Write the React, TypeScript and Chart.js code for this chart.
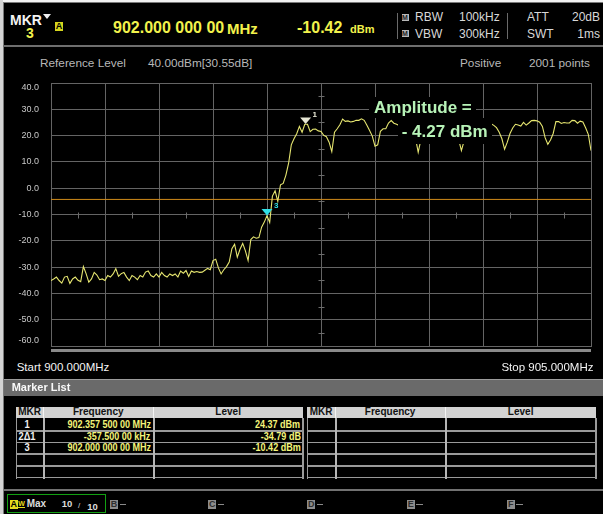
import React, { useEffect, useRef } from 'react';
import { Chart, registerables } from 'chart.js';

Chart.register(...registerables);

// ---- sweep settings ----
const START_MHZ = 900;
const STOP_MHZ = 905;
const SWEEP_STEP_MHZ = 0.025;
const Y_MIN = -60;
const Y_MAX = 40;
const Y_STEP = 10;
const DISPLAY_LINE_DBM = -4.27;

// ---- trace levels (dBm), one value per 25 kHz ----
const TRACE_900_901 = [
  -35.1, -34.5, -33.8, -35.1, -36.1, -33.8, -33.5, -36.2, -34.5, -33.8,
  -35.0, -35.5, -29.8, -32.5, -35.7, -34.5, -32.0, -33.0, -34.8, -34.5,
  -35.1, -33.2, -33.8, -32.6, -30.6, -33.5, -32.5, -32.0, -33.8, -35.1,
  -33.2, -33.8, -34.8, -33.2, -33.8, -31.9, -31.5, -33.2, -33.8, -32.6,
  -33.8,
];
const TRACE_901_902 = [
  -32.0, -33.2, -33.8, -32.6, -33.2, -32.6, -33.8, -31.5, -32.3, -31.3,
  -33.6, -31.5, -32.0, -31.7, -32.0, -31.9, -31.2, -30.5, -31.0, -27.5,
  -27.0, -30.3, -32.6, -31.0, -29.8, -28.1, -23.0, -21.3, -26.2, -23.2,
  -21.0, -23.8, -27.5, -19.5, -18.5, -19.0, -18.8, -14.8, -12.9, -10.42,
];
const TRACE_902_903 = [
  -13.0, -3.0, -1.0, -5.0, 1.3, 1.8, 5.0, 9.5, 16.5, 18.8,
  20.7, 23.5, 21.3, 24.3, 24.3, 21.5, 22.4, 22.5, 21.8, 21.6,
  20.1, 19.6, 17.5, 13.9, 21.3, 22.6, 24.1, 26.3, 25.4, 25.6,
  25.2, 25.4, 25.8, 25.8, 26.4, 25.8, 23.9, 21.9, 19.8, 16.0,
];
const TRACE_903_904 = [
  16.5, 21.6, 22.6, 22.6, 24.8, 25.7, 24.7, 24.3, 23.8, 24.0,
  24.5, 25.0, 24.2, 22.5, 19.0, 13.7, 18.5, 22.0, 24.5, 25.3,
  24.8, 25.5, 24.6, 25.3, 25.0, 24.5, 25.2, 24.4, 23.5, 21.5,
  18.5, 14.3, 18.0, 22.0, 24.0, 25.0, 24.3, 25.2, 24.6, 25.0,
];
const TRACE_904_905 = [
  24.2, 24.8, 24.5, 23.9, 23.0, 21.3, 18.8, 14.8, 17.5, 20.8,
  22.9, 24.3, 24.0, 23.6, 25.0, 24.0, 24.8, 25.7, 25.8, 25.6,
  25.1, 23.5, 19.2, 16.7, 18.3, 20.8, 25.3, 25.3, 24.6, 25.0,
  24.8, 24.8, 25.8, 25.7, 24.7, 25.5, 25.2, 23.0, 20.5, 14.3,
];
const LEVELS = [...TRACE_900_901, ...TRACE_901_902, ...TRACE_902_903, ...TRACE_903_904, ...TRACE_904_905];
const FREQS = LEVELS.map((_, i) => START_MHZ + i * SWEEP_STEP_MHZ);

// ---- markers drawn on trace ----
const MARKER_IDS = ['1', '3'];
const MARKER_FREQS = [902.3575, 902.0];
const MARKER_LEVELS = [24.37, -10.42];
const MARKER_COLORS = ['#e6e6d4', '#2fe0e6'];

// ---- marker table ----
const TABLE_MKR = ['1', '2\u03941', '3', '', ''];
const TABLE_FREQ = ['902.357 500 00 MHz', '-357.500 00 kHz', '902.000 000 00 MHz', '', ''];
const TABLE_LEVEL = ['24.37 dBm', '-34.79 dB', '-10.42 dBm', '', ''];

const GRID = '#646464';
const TRACE_COLOR = '#e6e670';
const FONT = '"Liberation Sans", Arial, sans-serif';
const W = 603;

const specPlugin = {
  id: 'specDecor',
  afterDraw(chart: any) {
    const { ctx, chartArea: a, scales } = chart;
    const x = scales.x;
    const y = scales.y;
    ctx.save();
    // crosshair minor ticks
    ctx.strokeStyle = '#6c6c6c';
    ctx.lineWidth = 1;
    ctx.beginPath();
    const cy = Math.round(y.getPixelForValue((Y_MIN + Y_MAX) / 2)) + 0.5;
    for (let f = START_MHZ + 0.25; f < STOP_MHZ; f += 0.5) {
      const px = Math.round(x.getPixelForValue(f)) + 0.5;
      ctx.moveTo(px, cy - 3);
      ctx.lineTo(px, cy + 3);
    }
    const cx = Math.round(x.getPixelForValue((START_MHZ + STOP_MHZ) / 2)) + 0.5;
    for (let v = Y_MIN + Y_STEP / 2; v < Y_MAX; v += Y_STEP) {
      const py = Math.round(y.getPixelForValue(v)) + 0.5;
      ctx.moveTo(cx - 3, py);
      ctx.lineTo(cx + 3, py);
    }
    ctx.stroke();

    // y tick labels
    ctx.font = '9px ' + FONT;
    ctx.fillStyle = '#c8c8c8';
    ctx.textAlign = 'right';
    ctx.textBaseline = 'middle';
    y.ticks.forEach((t: any) => {
      let py = y.getPixelForValue(t.value);
      py = Math.min(Math.max(py, a.top + 4.5), a.bottom - 5);
      ctx.fillText(Number(t.value).toFixed(1), a.left - 12, py);
    });

    // markers
    MARKER_IDS.forEach((id, i) => {
      const px = x.getPixelForValue(MARKER_FREQS[i]);
      const py = y.getPixelForValue(MARKER_LEVELS[i]);
      ctx.fillStyle = MARKER_COLORS[i];
      ctx.beginPath();
      ctx.moveTo(px, py);
      ctx.lineTo(px - 5.5, py - 6.5);
      ctx.lineTo(px + 5.5, py - 6.5);
      ctx.closePath();
      ctx.fill();
      ctx.font = 'bold 8px ' + FONT;
      ctx.textAlign = 'left';
      ctx.textBaseline = 'middle';
      ctx.fillText(id, px + 7, py - 9.5);
    });
    ctx.restore();
  },
};

type TxtProps = {
  x: number;
  base: number;
  size: number;
  color?: string;
  bold?: boolean;
  align?: 'left' | 'right' | 'center';
  sx?: number;
  children: React.ReactNode;
};

function Txt({ x, base, size, color = '#fff', bold = false, align = 'left', sx, children }: TxtProps) {
  const style: React.CSSProperties = {
    position: 'absolute',
    top: base - 0.8465 * size,
    fontSize: size,
    lineHeight: size + 'px',
    color,
    fontWeight: bold ? 'bold' : 'normal',
    whiteSpace: 'pre',
  };
  let tf = '';
  if (align === 'left') style.left = x;
  else if (align === 'right') style.right = W - x;
  else {
    style.left = x;
    tf = 'translateX(-50%)';
  }
  if (sx) {
    tf += ` scaleX(${sx})`;
    style.transformOrigin = align === 'right' ? 'right center' : align === 'center' ? 'center' : 'left center';
  }
  if (tf) style.transform = tf.trim();
  return <div style={style}>{children}</div>;
}

function Rect({ x, y, w, h, bg, style }: { x: number; y: number; w: number; h: number; bg: string; style?: React.CSSProperties }) {
  return <div style={{ position: 'absolute', left: x, top: y, width: w, height: h, background: bg, ...style }} />;
}

function LetterBox({ x, y, letter, bg, fg, w = 7, h = 8, size = 8 }: { x: number; y: number; letter: string; bg: string; fg: string; w?: number; h?: number; size?: number }) {
  return (
    <div
      style={{
        position: 'absolute', left: x, top: y, width: w, height: h, background: bg, color: fg,
        fontSize: size, lineHeight: h + 'px', fontWeight: 'bold', textAlign: 'center', overflow: 'visible',
      }}
    >
      {letter}
    </div>
  );
}

function MarkerTable({ cols, mkr, freq, level }: { cols: number[]; mkr: string[]; freq: string[]; level: string[] }) {
  const headTop = 407;
  const headH = 11;
  const bodyTop = 418;
  const pitch = 11.67;
  const heads = ['MKR', 'Frequency', 'Level'];
  const els: React.ReactNode[] = [];
  for (let c = 0; c < 3; c++) {
    els.push(<Rect key={'h' + c} x={cols[c] + (c ? 1 : 0)} y={headTop} w={cols[c + 1] - cols[c] - (c ? 1 : 0)} h={headH} bg="#d2d2d2" />);
    els.push(
      <Txt key={'ht' + c} x={(cols[c] + cols[c + 1]) / 2} base={headTop + 8.8} size={10} bold color="#111" align="center">
        {heads[c]}
      </Txt>
    );
    if (c) els.push(<Rect key={'hs' + c} x={cols[c]} y={headTop} w={1} h={headH} bg="#f4f4f4" />);
  }
  for (let r = 0; r < 5; r++) {
    els.push(<Rect key={'rs' + r} x={cols[0]} y={430 + pitch * r} w={cols[3] - cols[0]} h={1.7} bg="#9a9a9a" />);
    const base = 428.3 + pitch * r;
    if (mkr[r]) els.push(<Txt key={'m' + r} x={cols[0] + 11} base={base} size={11} bold color="#f2f2f2" align="center" sx={0.85}>{mkr[r]}</Txt>);
    if (freq[r]) els.push(<Txt key={'f' + r} x={cols[2] - 2.6} base={base} size={11} bold color="#f4f47a" align="right" sx={0.82}>{freq[r]}</Txt>);
    if (level[r]) els.push(<Txt key={'l' + r} x={cols[3] - 2.5} base={base} size={11} bold color="#f4f47a" align="right" sx={0.82}>{level[r]}</Txt>);
  }
  els.push(<Rect key="vl0" x={cols[0]} y={bodyTop} w={1} h={61} bg="#9a9a9a" />);
  els.push(<Rect key="vl1" x={cols[1] - 0.5} y={bodyTop} w={2} h={61} bg="#b4b4b4" />);
  els.push(<Rect key="vl2" x={cols[2] - 0.5} y={bodyTop} w={2} h={61} bg="#b4b4b4" />);
  els.push(<Rect key="vl3" x={cols[3] - 1} y={bodyTop} w={1.5} h={61} bg="#9a9a9a" />);
  return <>{els}</>;
}

export default function App() {
  const ref = useRef<HTMLCanvasElement>(null);

  useEffect(() => {
    const chart = new Chart(ref.current as HTMLCanvasElement, {
      type: 'line',
      data: {
        datasets: [
          {
            data: FREQS.map((f, i) => ({ x: f, y: LEVELS[i] })),
            borderColor: TRACE_COLOR,
            borderWidth: 1.1,
            pointRadius: 0,
            tension: 0,
            fill: false,
          },
          {
            data: [
              { x: START_MHZ, y: DISPLAY_LINE_DBM },
              { x: STOP_MHZ, y: DISPLAY_LINE_DBM },
            ],
            borderColor: '#cf8a1a',
            borderWidth: 1,
            pointRadius: 0,
            fill: false,
          },
        ],
      },
      options: {
        responsive: false,
        animation: false,
        devicePixelRatio: 1,
        events: [],
        layout: { padding: { left: 51, right: 12, top: 13, bottom: 14 } },
        plugins: { legend: { display: false }, tooltip: { enabled: false } },
        scales: {
          x: {
            type: 'linear',
            min: START_MHZ,
            max: STOP_MHZ,
            ticks: { display: false, stepSize: 0.5 },
            grid: { color: GRID, drawTicks: false, lineWidth: 1 },
            border: { color: GRID },
          },
          y: {
            type: 'linear',
            min: Y_MIN,
            max: Y_MAX,
            ticks: { display: false, stepSize: Y_STEP },
            grid: { color: GRID, drawTicks: false, lineWidth: 1 },
            border: { color: GRID },
          },
        },
      } as any,
      plugins: [specPlugin],
    });
    return () => chart.destroy();
  }, []);

  const hdr = '#d8d8d8';
  const yel = '#f2f24c';
  const sub = '#b8b8b8';

  return (
    <div
      style={{
        position: 'absolute', left: 0, top: 0, width: W, height: 514, background: '#000',
        overflow: 'hidden', fontFamily: FONT,
      }}
    >
      {/* outer frame */}
      <Rect x={0} y={0} w={W} h={2} bg="#f2f2f2" />
      <Rect x={0} y={0} w={3} h={514} bg="#d4d4d4" />
      <Rect x={3} y={2} w={W - 3} h={1} bg="#7a7a7a" />
      <Rect x={3} y={2} w={1} h={512} bg="#7a7a7a" />

      {/* header */}
      <Txt x={10} base={25} size={14} bold color="#f4f4f4">MKR</Txt>
      <div style={{ position: 'absolute', left: 43, top: 14, width: 0, height: 0, borderLeft: '4.5px solid transparent', borderRight: '4.5px solid transparent', borderTop: '5px solid #f0f0f0' }} />
      <Txt x={26} base={38} size={14} bold color={yel}>3</Txt>
      <div style={{ position: 'absolute', left: 55, top: 22, width: 8, height: 9, background: '#d6d61e', color: '#000', fontSize: 9, lineHeight: '9px', fontWeight: 'bold', textAlign: 'center' }}>A</div>
      <Txt x={113} base={33.3} size={16} bold color={yel}>902.000 000 00</Txt>
      <Txt x={227} base={33.3} size={15} bold color={yel}>MHz</Txt>
      <Txt x={297} base={33.3} size={16} bold color={yel}>-10.42</Txt>
      <Txt x={350} base={33} size={11} bold color={yel}>dBm</Txt>

      <Rect x={396.5} y={13} w={1} h={26} bg="#6a6a6a" />
      <Rect x={507} y={13} w={1} h={26} bg="#6a6a6a" />
      <LetterBox x={401.5} y={13.5} letter="M" bg="#b8b8b8" fg="#222" w={7} h={7} size={7} />
      <LetterBox x={401.5} y={30} letter="M" bg="#b8b8b8" fg="#222" w={7} h={7} size={7} />
      <Txt x={415} base={21.5} size={12} color={hdr}>RBW</Txt>
      <Txt x={459} base={21.5} size={12} color={hdr}>100kHz</Txt>
      <Txt x={527} base={21.5} size={12} color={hdr}>ATT</Txt>
      <Txt x={600} base={21.5} size={12} color={hdr} align="right">20dB</Txt>
      <Txt x={415} base={38} size={12} color={hdr}>VBW</Txt>
      <Txt x={459} base={38} size={12} color={hdr}>300kHz</Txt>
      <Txt x={527} base={38} size={12} color={hdr}>SWT</Txt>
      <Txt x={600} base={38} size={12} color={hdr} align="right">1ms</Txt>

      <Rect x={3} y={45} w={W - 3} h={1.7} bg="#6e6e6e" />

      {/* settings row */}
      <Txt x={40} base={68} size={11.8} color={sub}>Reference Level</Txt>
      <Txt x={148} base={68} size={11.8} color={sub}>40.00dBm[30.55dB]</Txt>
      <Txt x={460} base={68} size={11.8} color={sub}>Positive</Txt>
      <Txt x={529} base={68} size={11.8} color={sub}>2001 points</Txt>

      {/* chart */}
      <canvas
        ref={ref}
        width={W}
        height={290}
        style={{ position: 'absolute', left: 0, top: 70, width: W, height: 290, display: 'block' }}
      />

      {/* display-line readout */}
      <Rect x={369} y={97} w={107} h={20.5} bg="#000" />
      <Rect x={398} y={117.5} w={94} h={26} bg="#000" />
      <Txt x={374} base={113.3} size={17} bold color="#b7f3b7">Amplitude =</Txt>
      <Txt x={401.7} base={137.3} size={17} bold color="#b7f3b7">{`- ${Math.abs(DISPLAY_LINE_DBM).toFixed(2)} dBm`}</Txt>

      <Rect x={51} y={349} w={540} h={2.5} bg="#8a8a8a" />
      <Txt x={16.7} base={372} size={11.5} color="#f4f4f4">Start 900.000MHz</Txt>
      <Txt x={593.5} base={372} size={11.5} color="#f4f4f4" align="right">Stop 905.000MHz</Txt>

      {/* marker list */}
      <Rect x={4} y={379} w={W - 4} h={17} bg="#6a6a6a" style={{ borderTop: '1px solid #9c9c9c', boxSizing: 'border-box' }} />
      <Txt x={11.7} base={391.5} size={11} bold color="#fafafa">Marker List</Txt>

      <MarkerTable cols={[16, 43.3, 153.3, 303]} mkr={TABLE_MKR} freq={TABLE_FREQ} level={TABLE_LEVEL} />
      <MarkerTable cols={[307.3, 335, 445.3, 596]} mkr={['', '', '', '', '']} freq={['', '', '', '', '']} level={['', '', '', '', '']} />

      <Rect x={4} y={489.3} w={W - 4} h={2.2} bg="#727272" />

      {/* trace bar */}
      <div style={{ position: 'absolute', left: 6.7, top: 494, width: 99.3, height: 19.3, border: '1px solid #12a012', boxSizing: 'border-box' }} />
      <LetterBox x={10} y={499.5} letter="A" bg="#e4dc1e" fg="#000" w={7.5} h={9} size={9} />
      <div style={{ position: 'absolute', left: 18.3, top: 500, fontSize: 7, lineHeight: '7px', fontWeight: 'bold', color: '#e4dc1e', borderBottom: '1px solid #e4dc1e' }}>W</div>
      <Txt x={26.7} base={507.3} size={10} bold color="#dcdcdc">Max</Txt>
      <Txt x={61.7} base={507.5} size={9.5} bold color="#dcdcdc">10</Txt>
      <Txt x={78} base={509} size={8} color="#dcdcdc">/</Txt>
      <Txt x={87.3} base={510} size={9.5} bold color="#dcdcdc">10</Txt>
      {[
        { l: 'B', x: 110 },
        { l: 'C', x: 208.3 },
        { l: 'D', x: 307.3 },
        { l: 'E', x: 406.7 },
        { l: 'F', x: 506.7 },
      ].map((b) => (
        <React.Fragment key={b.l}>
          <LetterBox x={b.x} y={499.5} letter={b.l} bg="#8c8c8c" fg="#2e2e2e" w={8} h={9} size={9} />
          <Rect x={b.x + 9.5} y={504} w={6.5} h={1} bg="#8a8a8a" />
        </React.Fragment>
      ))}
    </div>
  );
}
